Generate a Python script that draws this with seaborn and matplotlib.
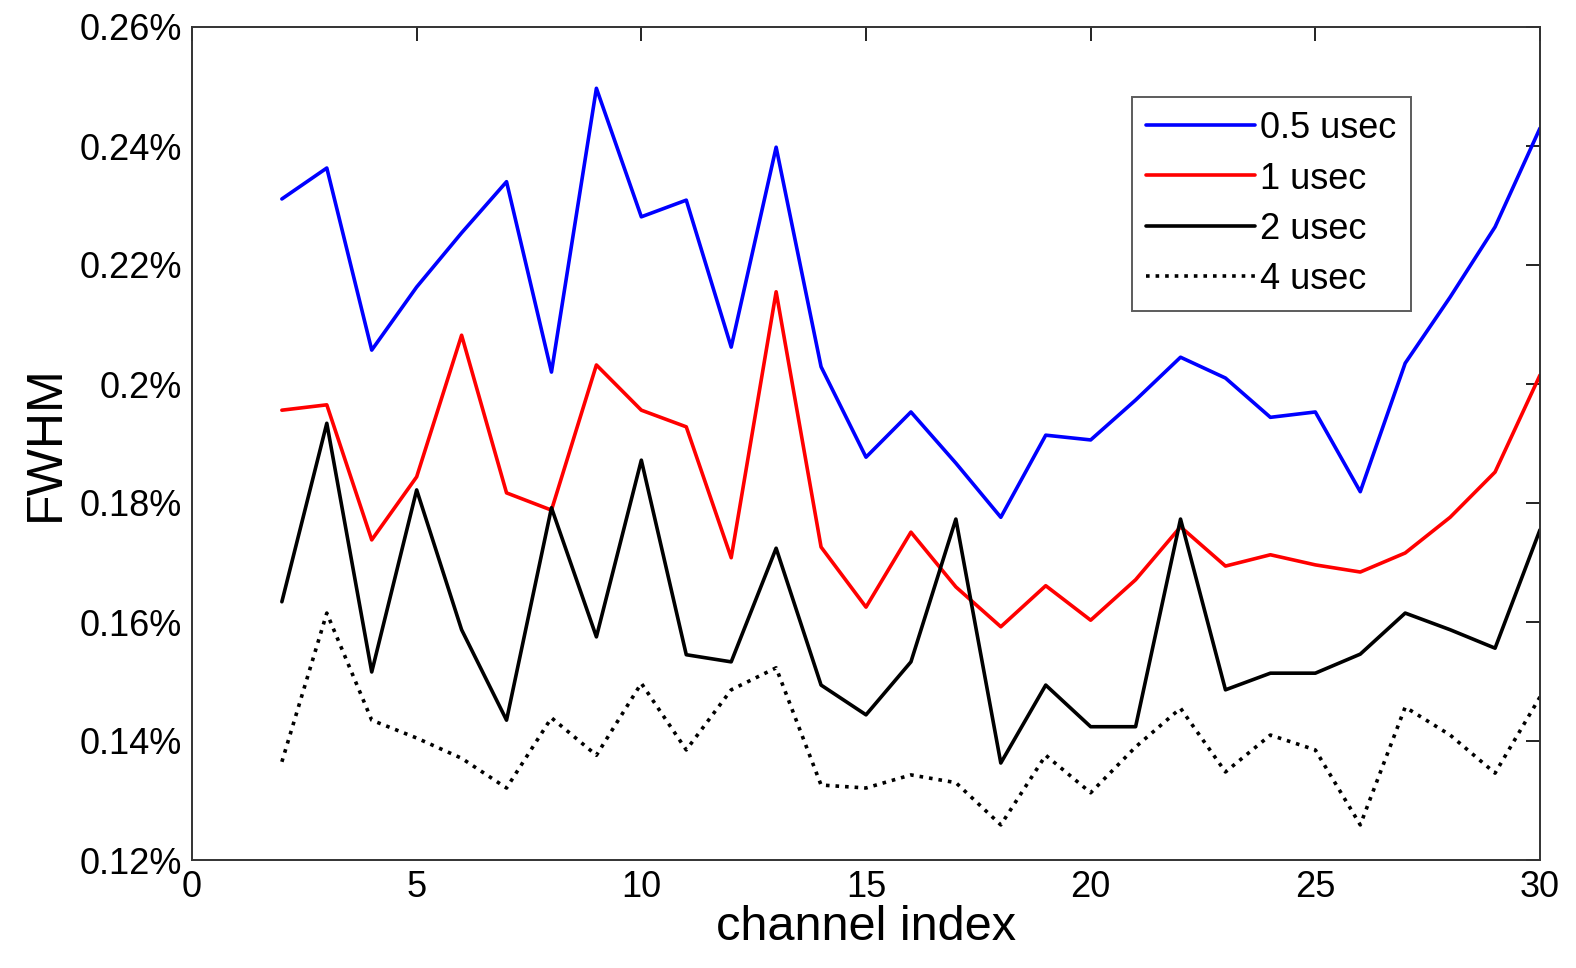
import matplotlib
matplotlib.use("Agg")
import matplotlib.pyplot as plt
import seaborn as sns
import numpy as np
import pandas as pd
from matplotlib.ticker import FuncFormatter

channels = list(range(2, 31))
fwhm_05 = [0.2311, 0.2363, 0.2057, 0.2163, 0.2254, 0.2340, 0.2020, 0.2497, 0.2281, 0.2309,
           0.2062, 0.2398, 0.2029, 0.1877, 0.1953, 0.1867, 0.1776, 0.1914, 0.1906, 0.1973,
           0.2045, 0.2010, 0.1944, 0.1953, 0.1819, 0.2035, 0.2146, 0.2264, 0.2430]
fwhm_1 = [0.1956, 0.1965, 0.1738, 0.1844, 0.2082, 0.1817, 0.1788, 0.2032, 0.1956, 0.1928,
          0.1708, 0.2155, 0.1726, 0.1625, 0.1751, 0.1659, 0.1592, 0.1661, 0.1603, 0.1671,
          0.1760, 0.1694, 0.1713, 0.1696, 0.1684, 0.1716, 0.1776, 0.1852, 0.2015]
fwhm_2 = [0.1634, 0.1934, 0.1516, 0.1822, 0.1587, 0.1435, 0.1792, 0.1575, 0.1872, 0.1545,
          0.1533, 0.1724, 0.1494, 0.1444, 0.1533, 0.1773, 0.1363, 0.1494, 0.1424, 0.1424,
          0.1773, 0.1486, 0.1514, 0.1514, 0.1546, 0.1615, 0.1587, 0.1556, 0.1755]
fwhm_4 = [0.1365, 0.1615, 0.1435, 0.1405, 0.1371, 0.1321, 0.1439, 0.1376, 0.1497, 0.1385,
          0.1486, 0.1523, 0.1326, 0.1321, 0.1343, 0.1330, 0.1259, 0.1376, 0.1313, 0.1390,
          0.1455, 0.1348, 0.1410, 0.1385, 0.1259, 0.1457, 0.1410, 0.1346, 0.1474]
labels = ["0.5 usec", "1 usec", "2 usec", "4 usec"]
colors = ["#0000ff", "#ff0000", "#000000", "#000000"]
styles = ["-", "-", "-", ":"]
xticks = [0, 5, 10, 15, 20, 25, 30]
yticks = [0.12, 0.14, 0.16, 0.18, 0.20, 0.22, 0.24, 0.26]

sns.set_style("white")
plt.rcParams['font.family'] = ['Liberation Sans', 'DejaVu Sans']
plt.rcParams['text.color'] = 'black'
plt.rcParams['axes.labelcolor'] = 'black'
plt.rcParams['xtick.color'] = '#222222'
plt.rcParams['ytick.color'] = '#222222'
plt.rcParams['xtick.labelcolor'] = 'black'
plt.rcParams['ytick.labelcolor'] = 'black'

fig = plt.figure(figsize=(15.76, 9.68), dpi=100)
ax = fig.add_axes([192/1576, 1-860/968, (1540-192)/1576, (860-27)/968])

series = [fwhm_05, fwhm_1, fwhm_2, fwhm_4]
for vals, lab, c, ls in zip(series, labels, colors, styles):
    df = pd.DataFrame({"channel": channels, "fwhm": vals})
    sns.lineplot(data=df, x="channel", y="fwhm", ax=ax, color=c, linestyle=ls,
                 linewidth=2.6, label=lab)

ax.set_xlim(0, 30)
ax.set_ylim(0.12, 0.26)
ax.set_xticks(xticks)
ax.set_yticks(yticks)
ax.yaxis.set_major_formatter(FuncFormatter(lambda v, p: f"{v:g}%"))
ax.tick_params(direction="in", length=10, width=1.4, labelsize=26, top=True, right=True,
               pad=7)
for s in ax.spines.values():
    s.set_linewidth(1.4)
    s.set_color("#333333")
ax.set_xlabel("channel index", fontsize=35, labelpad=0)
ax.set_ylabel("FWHM", fontsize=36, labelpad=8)

leg = ax.legend(loc="upper left", bbox_to_anchor=((1132-192)/1348, (860-97)/833),
                fontsize=26, frameon=True, fancybox=False, edgecolor="#333333",
                handlelength=3.0, handletextpad=0.15, borderpad=0.4, labelspacing=0.42,
                borderaxespad=0, handleheight=0.8)
leg.get_frame().set_linewidth(1.4)

fig.savefig("out.png", dpi=100)
